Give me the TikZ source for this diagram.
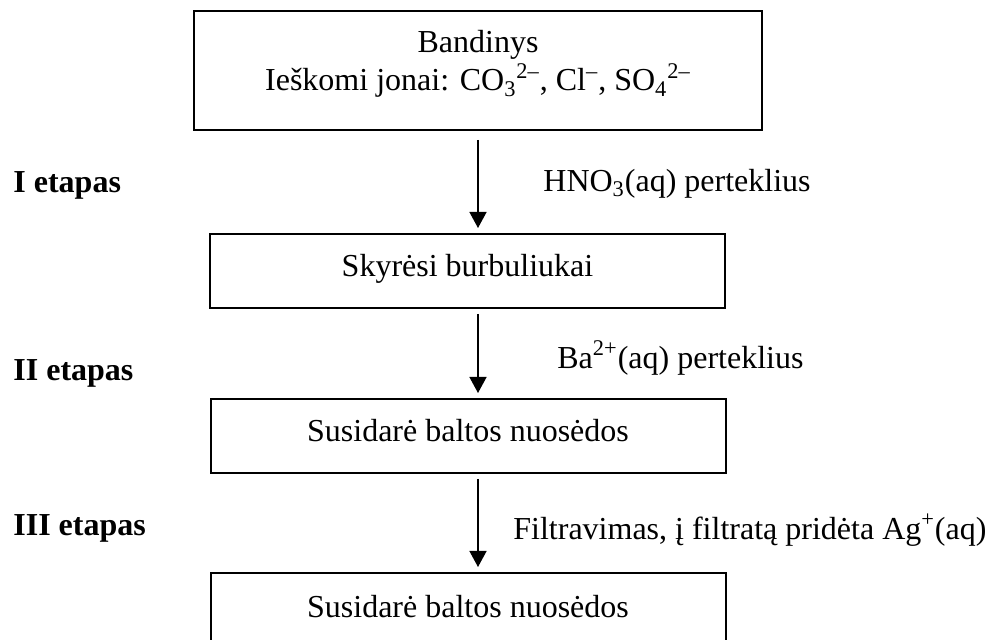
\documentclass[tikz,border=0pt]{standalone}
\usepackage{fontspec}
\setmainfont{Liberation Serif}
\usetikzlibrary{arrows.meta}
\tikzset{every node/.style={font=\fontsize{16}{19}\selectfont, inner sep=0pt},
  stagebox/.style={draw, line width=1pt, minimum width=257.5pt, minimum height=37pt, text height=11pt, text depth=5.5pt},
  flow/.style={-{Triangle[width=8.5pt,length=8pt]}, line width=0.7pt, shorten <=2.5pt, shorten >=2.5pt},
  reagent/.style={anchor=west},
  etapas/.style={anchor=west, font=\fontsize{16}{19}\selectfont\bfseries}}

\begin{document}
\begin{tikzpicture}[x=0.5pt,y=-0.5pt]
   \useasboundingbox (0,0) rectangle (986,640);
   \clip (0,0) rectangle (986,640);
   \node[stagebox, minimum width=284pt, minimum height=59.5pt, text height=23pt, text depth=21pt] (bandinys) at (478,70.5)
     {\begin{tabular}{@{}c@{}}Bandinys\\Ieškomi jonai: CO\textsubscript{3}\textsuperscript{2–}, Cl\textsuperscript{–}, SO\textsubscript{4}\textsuperscript{2–}\end{tabular}};
   \node[stagebox] (burbuliukai) at (467.5,271) {Skyrėsi burbuliukai};
   \node[stagebox] (nuosedos1) at (468,436) {Susidarė baltos nuosėdos};
   \node[stagebox, text depth=3pt] (nuosedos2) at (468,610) {Susidarė baltos nuosėdos};
   \draw[flow, shorten <=4.5pt] (bandinys.south) -- (burbuliukai.north -| bandinys.south);
   \draw[flow] (burbuliukai.south -| bandinys.south) -- (nuosedos1.north -| bandinys.south);
   \draw[flow] (nuosedos1.south -| bandinys.south) -- (nuosedos2.north -| bandinys.south);
   \node[etapas] (etapas1) at (13,185) {I etapas};
   \node[etapas] (etapas2) at (13,373) {II etapas};
   \node[etapas] (etapas3) at (13,528) {III etapas};
   \node[reagent] (reagent1) at (543,184) {HNO\textsubscript{3}(aq) perteklius};
   \node[reagent] (reagent2) at (557,358) {Ba\textsuperscript{2+}(aq) perteklius};
   \node[reagent] (reagent3) at (513,530) {Filtravimas, į filtratą pridėta Ag\textsuperscript{+}(aq)};
\end{tikzpicture}
\end{document}
